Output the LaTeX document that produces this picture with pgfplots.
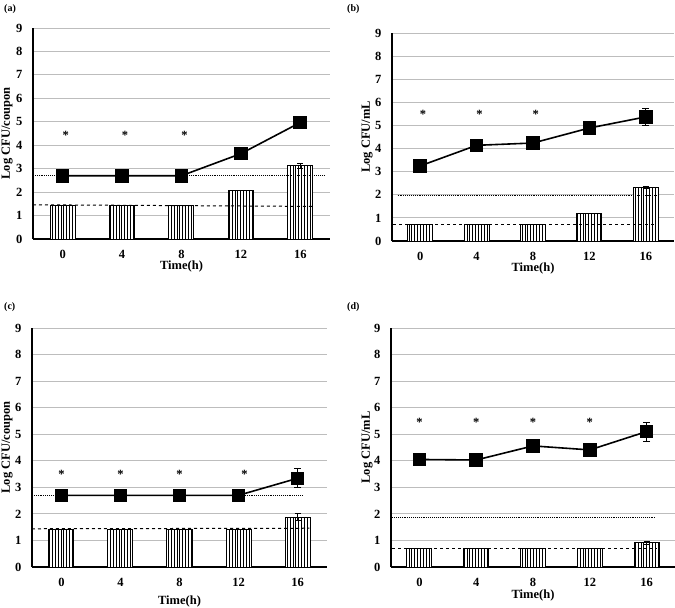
\documentclass[border=0pt]{standalone}
\usepackage{fontspec}
\setmainfont{Liberation Serif}
\usepackage{pgfplots}
\pgfplotsset{compat=1.18}
\usetikzlibrary{patterns.meta}

\newcommand{\labfont}{\fontsize{12.5}{14}\selectfont\bfseries}
\pgfplotsset{
  panel/.style={
    scale only axis,
    xmin=-0.5, xmax=4.5, ymin=0, ymax=9,
    xtick={0,1,2,3,4}, xticklabels={0,4,8,12,16},
    ytick={0,...,9},
    axis x line*=bottom, axis y line*=left,
    x axis line style={-, line width=1.2pt},
    y axis line style={-, line width=1.2pt},
    ymajorgrids, grid style={black!26, line width=0.9pt},
    major tick length=0pt,
    /pgf/number format/assume math mode=true,
    tick label style={font=\labfont},
    xticklabel style={yshift=-8pt},
    yticklabel style={xshift=-7pt},
    xlabel={Time(h)},
    clip=false,
  },
  ylab/.style={every axis y label/.style={at={(axis description cs:0,0.5)}, xshift=#1, rotate=90, anchor=center, font=\labfont}},
  xlab/.style={every axis x label/.style={at={(axis description cs:0.5,0)}, yshift=#1, anchor=center, font=\labfont}},
  mainline/.style={black, line width=1.6pt, mark=square*, mark size=6pt,
    mark options={solid, fill=black},
    error bars/.cd, y dir=both, y explicit,
    error bar style={line width=0.8pt, solid}, error mark options={rotate=90, mark size=3.5pt, line width=0.8pt}},
  bars/.style={ybar, bar width=25pt, draw=black, line width=1pt, fill=white,
    postaction={pattern={Lines[angle=90, distance=2.9pt, line width=0.65pt]}},
    error bars/.cd, y dir=both, y explicit,
    error bar style={line width=0.7pt}, error mark options={rotate=90, mark size=3pt, line width=0.7pt}},
  stars/.style={only marks, mark=text, text mark={\labfont *}},
}

\begin{document}
\begin{tikzpicture}
\useasboundingbox (0,0) rectangle (675pt,-608pt);

% ---------------- (a)
\node[anchor=north west, font=\fontsize{10}{12}\selectfont\bfseries, inner sep=0pt] at (4pt,-4pt) {(a)};
\begin{axis}[panel, at={(33pt,-239pt)}, anchor=south west, width=297pt, height=211pt,
  ylabel={Log CFU/coupon}, ylab=-26pt, xlab=-27.5pt]
\addplot[bars] coordinates {(0,1.45) +- (0,0) (1,1.45) +- (0,0) (2,1.45) +- (0,0) (3,2.07) +- (0,0) (4,3.12) +- (0,0.12)};
\addplot[densely dotted, line width=0.9pt] coordinates {(-0.5,2.73) (4.42,2.73)};
\addplot[dashed, line width=1pt] coordinates {(-0.5,1.46) (4.2,1.39)};
\addplot[mainline] coordinates {(0,2.7) +- (0,0) (1,2.7) +- (0,0) (2,2.7) +- (0,0) (3,3.64) +- (0,0) (4,4.97) +- (0,0)};
\addplot[stars] coordinates {(0.05,4.41) (1.05,4.41) (2.05,4.41)};
\end{axis}

% ---------------- (b)
\node[anchor=north west, font=\fontsize{10}{12}\selectfont\bfseries, inner sep=0pt] at (347pt,-4pt) {(b)};
\begin{axis}[panel, at={(392pt,-241pt)}, anchor=south west, width=282pt, height=208pt,
  ylabel={Log CFU/mL}, ylab=-25pt, xlab=-27.5pt]
\addplot[bars] coordinates {(0,0.71) +- (0,0) (1,0.71) +- (0,0) (2,0.71) +- (0,0) (3,1.21) +- (0,0) (4,2.31) +- (0,0.05)};
\addplot[densely dotted, line width=0.9pt] coordinates {(-0.4,1.98) (4.23,1.98)};
\addplot[dashed, line width=1pt] coordinates {(-0.48,0.71) (4.2,0.71)};
\addplot[mainline] coordinates {(0,3.25) +- (0,0) (1,4.14) +- (0,0) (2,4.24) +- (0,0) (3,4.89) +- (0,0) (4,5.37) +- (0,0.36)};
\addplot[stars] coordinates {(0.05,5.46) (1.05,5.46) (2.05,5.46)};
\end{axis}

% ---------------- (c)
\node[anchor=north west, font=\fontsize{10}{12}\selectfont\bfseries, inner sep=0pt] at (4pt,-302pt) {(c)};
\begin{axis}[panel, at={(32pt,-567pt)}, anchor=south west, width=295pt, height=239pt,
  ylabel={Log CFU/coupon}, ylab=-25pt, xlab=-34pt]
\addplot[bars] coordinates {(0,1.43) +- (0,0) (1,1.43) +- (0,0) (2,1.43) +- (0,0) (3,1.43) +- (0,0) (4,1.88) +- (0,0.13)};
\addplot[densely dotted, line width=0.9pt] coordinates {(-0.5,2.68) (4.08,2.68)};
\addplot[dashed, line width=1pt] coordinates {(-0.5,1.44) (4.2,1.46)};
\addplot[mainline] coordinates {(0,2.7) +- (0,0) (1,2.7) +- (0,0) (2,2.7) +- (0,0) (3,2.7) +- (0,0) (4,3.34) +- (0,0.36)};
\addplot[stars] coordinates {(0,3.49) (1,3.49) (2,3.49) (3.1,3.49)};
\end{axis}

% ---------------- (d)
\node[anchor=north west, font=\fontsize{10}{12}\selectfont\bfseries, inner sep=0pt] at (347pt,-302pt) {(d)};
\begin{axis}[panel, at={(391pt,-567pt)}, anchor=south west, width=284pt, height=239pt,
  ylabel={Log CFU/mL}, ylab=-24pt, xlab=-28pt]
\addplot[bars] coordinates {(0,0.69) +- (0,0) (1,0.69) +- (0,0) (2,0.69) +- (0,0) (3,0.69) +- (0,0) (4,0.91) +- (0,0.04)};
\addplot[densely dotted, line width=0.9pt] coordinates {(-0.48,1.86) (4.14,1.86)};
\addplot[dashed, line width=1pt] coordinates {(-0.48,0.69) (4.17,0.69)};
\addplot[mainline] coordinates {(0,4.05) +- (0,0) (1,4.03) +- (0,0) (2,4.56) +- (0,0) (3,4.41) +- (0,0) (4,5.10) +- (0,0.36)};
\addplot[stars] coordinates {(0,5.46) (1,5.46) (2,5.46) (3,5.46)};
\end{axis}
\end{tikzpicture}
\end{document}
